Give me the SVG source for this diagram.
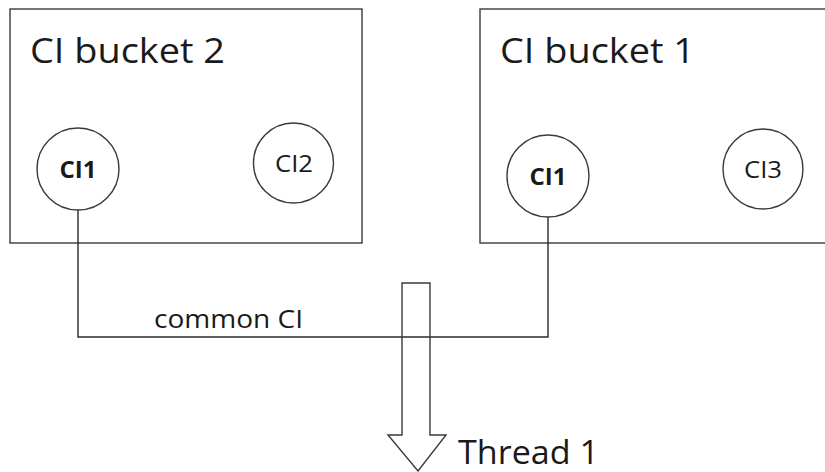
<svg xmlns="http://www.w3.org/2000/svg" width="825" height="472" viewBox="0 0 825 472">
<style>
.box{fill:none;stroke:#3a3a3a;stroke-width:1.4}
.ci{fill:#fff;stroke:#3a3a3a;stroke-width:1.4}
.wire{fill:none;stroke:#2a2a2a;stroke-width:1.4}
.t{font-family:"Open Sans","Liberation Sans",sans-serif;fill:#1a1a1a}
.big{font-size:35px}
.thr{font-size:32px}
.small{font-size:26px}
.node{font-size:24px;text-anchor:middle}
</style>
<rect width="825" height="472" fill="#fff"/>
<g id="bucket2">
<rect class="box" x="10" y="9" width="352" height="234"/>
<text class="t big" x="30" y="63" textLength="195" lengthAdjust="spacingAndGlyphs">CI bucket 2</text>
</g>
<g id="bucket1">
<rect class="box" x="480" y="9" width="360" height="234"/>
<text class="t big" x="500" y="63" textLength="195" lengthAdjust="spacingAndGlyphs">CI bucket 1</text>
</g>
<g id="connectors">
<polyline class="wire" points="78,210 78,337 548,337 548,217"/>
</g>
<g id="b2-ci1">
<circle class="ci" cx="78" cy="169" r="41"/>
<text class="t node" x="78" y="178" font-weight="bold" textLength="37" lengthAdjust="spacingAndGlyphs">CI1</text>
</g>
<g id="b2-ci2">
<circle class="ci" cx="293.5" cy="163" r="40"/>
<text class="t node" x="294" y="172" textLength="38" lengthAdjust="spacingAndGlyphs">CI2</text>
</g>
<g id="b1-ci1">
<circle class="ci" cx="548" cy="176" r="41"/>
<text class="t node" x="548" y="185" font-weight="bold" textLength="37" lengthAdjust="spacingAndGlyphs">CI1</text>
</g>
<g id="b1-ci3">
<circle class="ci" cx="763" cy="169" r="40"/>
<text class="t node" x="763" y="178" textLength="38" lengthAdjust="spacingAndGlyphs">CI3</text>
</g>
<g id="common-label">
<text class="t small" x="154" y="328" textLength="149" lengthAdjust="spacingAndGlyphs">common CI</text>
</g>
<g id="thread1">
<polygon class="box" points="402,283 430,283 430,435 446,435 418,471 388,435 402,435"/>
<text class="t thr" x="458" y="464" textLength="141" lengthAdjust="spacingAndGlyphs">Thread 1</text>
</g>
</svg>
